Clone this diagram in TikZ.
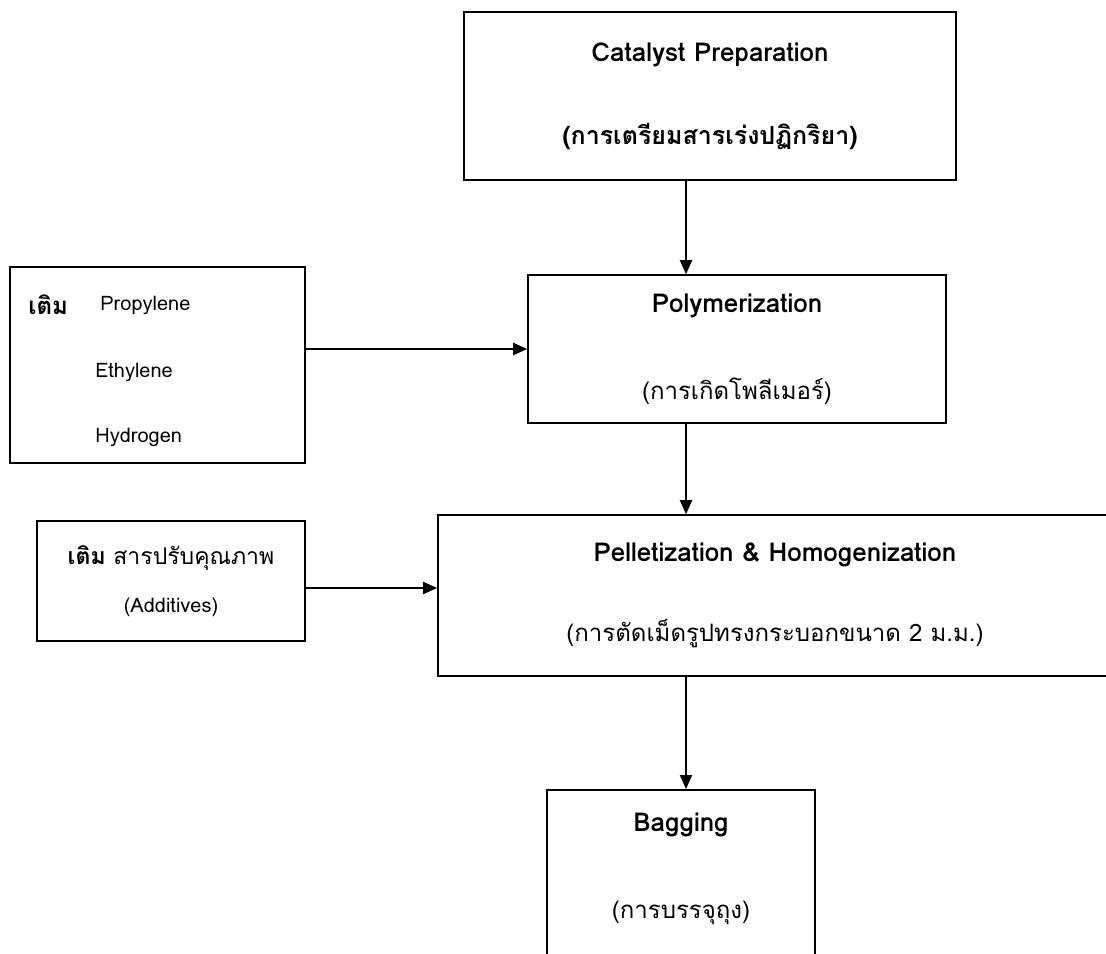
\documentclass[tikz,border=0pt]{standalone}
\usepackage{fontspec}
\setmainfont[Script=Thai]{Loma}
\usetikzlibrary{arrows.meta,positioning}
\newcommand{\headfont}{\bfseries\fontsize{13}{15}\selectfont}
\newcommand{\subfont}{\fontsize{12}{14}\selectfont}
\tikzset{
    box/.style={
        draw, thick, align=center, inner sep=0pt
    },
    head/.style={font=\headfont},
    item/.style={font=\fontsize{10}{12}\selectfont, anchor=west, inner sep=0pt}
}

\begin{document}
\begin{tikzpicture}[x=0.5pt, y=-0.5pt, >={Triangle[length=7pt, width=6pt]}]
\useasboundingbox (0,0) rectangle (1106,953);
\clip (0,0) rectangle (1106,953);

% Boxes
\node[box, minimum width=246pt, minimum height=84pt] (cat) at (710,96)
    {{\headfont Catalyst Preparation}\\[27pt]{\bfseries\fontsize{12.5}{14}\selectfont(การเตรียมสารเร่งปฏิกริยา)}};
\node[box, minimum width=209pt, minimum height=74pt] (poly) at (737,349)
    {{\headfont Polymerization}\\[29pt]{\subfont(การเกิดโพลีเมอร์)}};
\node[box, minimum width=337pt, minimum height=80.5pt] (pellet) at (775,595.5)
    {{\headfont Pelletization \& Homogenization}\\[25pt]{\subfont(การตัดเม็ดรูปทรงกระบอกขนาด 2 ม.ม.)}};
\node[box, minimum width=134pt, minimum height=110pt, anchor=north] (bag) at (681,789) {};
\node[head] (bagname) at (681,825) {Bagging};
\node[font=\subfont] (bagthai) at (681,913) {(การบรรจุถุง)};

% Feeds
\node[box, minimum width=147.5pt, minimum height=98pt] (feed) at (157.5,365) {};
\node[item, font=\bfseries\fontsize{12}{14}\selectfont] (add1) at (28,305) {เติม};
\node[item] (propylene) at (100,305) {Propylene};
\node[item] (ethylene) at (95,372) {Ethylene};
\node[item] (hydrogen) at (95,437) {Hydrogen};

\node[box, minimum width=134pt, minimum height=60pt] (add) at (171,581)
    {{\fontsize{11.5}{13}\selectfont\textbf{เติม} สารปรับคุณภาพ}\\[12pt]{\fontsize{10}{12}\selectfont(Additives)}};

\coordinate (spine) at (686,0);
\coordinate (addlevel) at (0,588);

% Arrows
\draw[->, line width=1pt] (cat.south -| spine) -- (poly.north -| spine);
\draw[->, line width=1pt] (poly.south -| spine) -- (pellet.north -| spine);
\draw[->, line width=1pt] (pellet.south -| spine) -- (bag.north -| spine);
\draw[->, line width=1pt] (feed.east |- poly.west) -- (poly.west);
\draw[->, line width=1pt] (add.east |- addlevel) -- (pellet.west |- addlevel);

\end{tikzpicture}
\end{document}
